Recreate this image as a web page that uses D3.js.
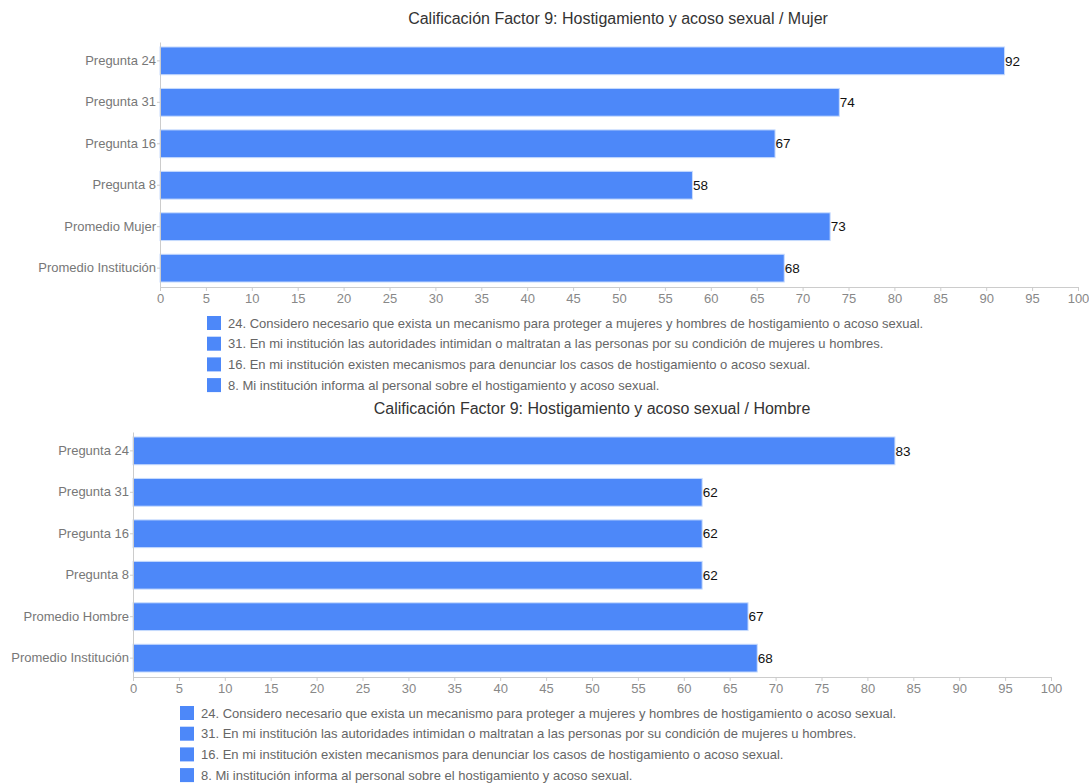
<!DOCTYPE html>
<html>
<head>
<meta charset="utf-8">
<script src="https://cdn.jsdelivr.net/npm/d3@7"></script>
<style>
  html, body { margin: 0; padding: 0; background: #fff; }
  svg { display: block; font-family: "Liberation Sans", Arial, Helvetica, sans-serif; }
</style>
</head>
<body>
<svg id="chart" width="1089" height="783"></svg>
<script>
// Chart data
const titleMujer = "Calificación Factor 9: Hostigamiento y acoso sexual / Mujer";
const titleHombre = "Calificación Factor 9: Hostigamiento y acoso sexual / Hombre";
const categoriesMujer = ["Pregunta 24", "Pregunta 31", "Pregunta 16", "Pregunta 8", "Promedio Mujer", "Promedio Institución"];
const valuesMujer = [92, 74, 67, 58, 73, 68];
const categoriesHombre = ["Pregunta 24", "Pregunta 31", "Pregunta 16", "Pregunta 8", "Promedio Hombre", "Promedio Institución"];
const valuesHombre = [83, 62, 62, 62, 67, 68];
const xTicks = d3.range(0, 101, 5);
const legendItems = [
  "24. Considero necesario que exista un mecanismo para proteger a mujeres y hombres de hostigamiento o acoso sexual.",
  "31. En mi institución las autoridades intimidan o maltratan a las personas por su condición de mujeres u hombres.",
  "16. En mi institución existen mecanismos para denunciar los casos de hostigamiento o acoso sexual.",
  "8. Mi institución informa al personal sobre el hostigamiento y acoso sexual."
];

const svg = d3.select("#chart");
const BAR = "#4d88f9";

function drawPanel(opts) {
  const g = svg.append("g").attr("transform", `translate(0,${opts.top})`);
  const x = d3.scaleLinear().domain([0, 100]).range([opts.left, opts.left + 918]);
  const y = d3.scaleBand().domain(opts.categories)
    .range([42, 287]).paddingInner(0.33).paddingOuter(0.12);

  // title
  g.append("text")
    .attr("x", opts.titleX).attr("y", 24)
    .attr("text-anchor", "middle")
    .attr("font-size", 16).attr("fill", "#333")
    .text(opts.title);

  // bars
  g.selectAll("rect.bar").data(opts.values).join("rect")
    .attr("class", "bar")
    .attr("x", x(0))
    .attr("y", (d, i) => y(opts.categories[i]))
    .attr("width", d => x(d) - x(0))
    .attr("height", y.bandwidth())
    .attr("fill", BAR)
    .attr("stroke", "#c9dcfd").attr("stroke-width", 1);

  // value labels
  g.selectAll("text.val").data(opts.values).join("text")
    .attr("class", "val")
    .attr("x", d => x(d) + 0.5)
    .attr("y", (d, i) => y(opts.categories[i]) + y.bandwidth() / 2)
    .attr("dy", "0.35em")
    .attr("font-size", 13.5).attr("fill", "#111")
    .text(d => d);

  // x axis
  const xa = g.append("g").attr("transform", "translate(0,287)")
    .call(d3.axisBottom(x).tickValues(xTicks).tickSize(4).tickPadding(3));
  xa.select(".domain").attr("stroke", "#ccc");
  xa.selectAll(".tick line").attr("stroke", "#ccc");
  xa.selectAll(".tick text").attr("fill", "#888").attr("font-size", 13)
    .attr("font-family", "Liberation Sans, Arial, sans-serif");

  // y axis
  const ya = g.append("g").attr("transform", `translate(${x(0)},0)`)
    .call(d3.axisLeft(y).tickSize(3).tickPadding(1).tickSizeOuter(0));
  ya.select(".domain").attr("stroke", "#ccc");
  ya.selectAll(".tick line").attr("stroke", "#ccc");
  ya.selectAll(".tick text").attr("fill", "#777").attr("font-size", 13)
    .attr("font-family", "Liberation Sans, Arial, sans-serif");

  // legend
  const lg = g.append("g").attr("transform", `translate(${opts.left + 47},0)`);
  legendItems.forEach((t, i) => {
    const cy = 323 + i * 20.7;
    lg.append("rect").attr("x", 0).attr("y", cy - 7).attr("width", 14).attr("height", 14).attr("fill", BAR);
    lg.append("text").attr("x", 21).attr("y", cy).attr("dy", "0.35em")
      .attr("font-size", 13).attr("fill", "#666").text(t);
  });
}

drawPanel({ top: 0, left: 160, titleX: 618, title: titleMujer, categories: categoriesMujer, values: valuesMujer });
drawPanel({ top: 390, left: 133, titleX: 592, title: titleHombre, categories: categoriesHombre, values: valuesHombre });
</script>
</body>
</html>
